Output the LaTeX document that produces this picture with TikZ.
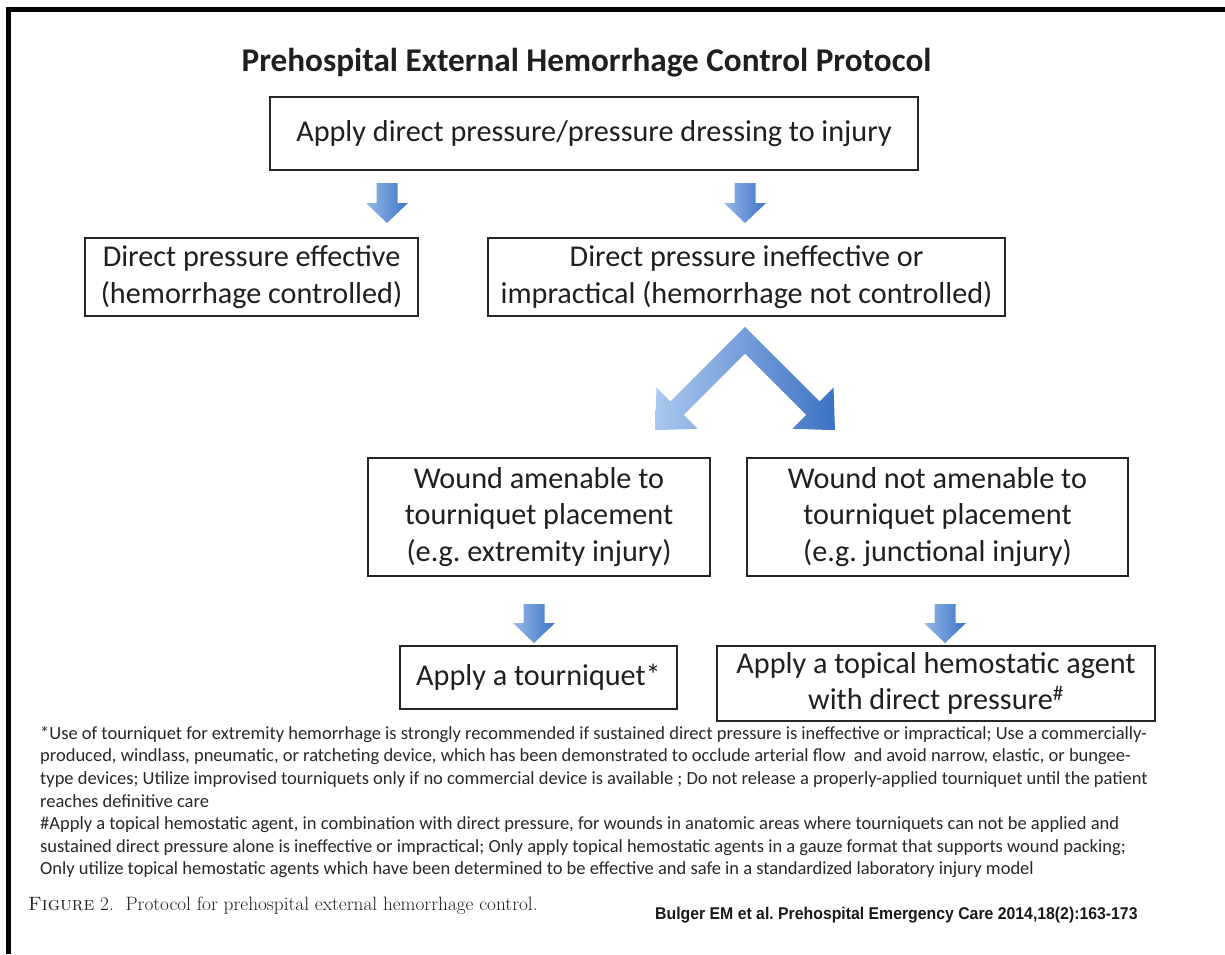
\documentclass[tikz,border=0pt]{standalone}
\usepackage{fontspec}
\usepackage{graphicx}
\usetikzlibrary{calc}
\newfontfamily\calibri{Carlito}
\newfontfamily\arialfont{Liberation Sans}
\definecolor{arrlite}{RGB}{150,186,234}
\definecolor{arrdark}{RGB}{60,114,196}
\definecolor{notegray}{RGB}{40,40,40}
\tikzset{
  stepbox/.style={
    rectangle,
    draw=black!85,
    line width=2.4pt,
    inner sep=0pt,
    align=center,
    text=black!88,
    font=\calibri\frenchspacing\fontsize{30.2}{36.5}\selectfont
  },
  fatdown/.style={
    left color=arrlite,
    right color=arrdark,
    draw=none,
    to path={($(\tikztostart)+(-10.5,0)$) -- ($(\tikztostart)+(10.5,0)$)
      -- ($(\tikztotarget)+(10.5,-20)$) -- ($(\tikztotarget)+(21,-20)$)
      -- (\tikztotarget) -- ($(\tikztotarget)+(-21,-20)$)
      -- ($(\tikztotarget)+(-10.5,-20)$) -- cycle}
  }
}

\begin{document}
\begin{tikzpicture}[x=1pt,y=-1pt]
\useasboundingbox (0,0) rectangle (1225,954);
\fill[white] (0,0) rectangle (1225,954);
% frame of the scan
\draw[line width=5pt] (8.5,954) -- (8.5,9.5) -- (1225,9.5);

\node[font=\calibri\bfseries\fontsize{33.2}{38}\selectfont, text=black!88, anchor=base] (title) at (586.5,71) {Prehospital External Hemorrhage Control Protocol};

\node[stepbox, minimum width=648pt, minimum height=73pt] (apply) at (594,133.5) {Apply direct pressure/pressure dressing to injury};
\node[stepbox, minimum width=333pt, minimum height=78pt] (effective) at (251.5,277) {Direct pressure effective\\(hemorrhage controlled)};
\node[stepbox, minimum width=517pt, minimum height=78pt] (ineffective) at (746.5,277) {Direct pressure ineffective or\\impractical (hemorrhage not controlled)};
\node[stepbox, minimum width=342pt, minimum height=118pt] (amenable) at (539,517) {Wound amenable to\\tourniquet placement\\(e.g. extremity injury)};
\node[stepbox, minimum width=381pt, minimum height=118pt] (notamenable) at (937.5,517) {Wound not amenable to\\tourniquet placement\\(e.g. junctional injury)};
\node[stepbox, minimum width=277pt, minimum height=63pt] (tourniquet) at (538.5,677.5) {Apply a tourniquet*};
\node[stepbox, minimum width=438pt, minimum height=75pt] (topical) at (936,683.5) {Apply a topical hemostatic agent\\with direct pressure\textsuperscript{\#}};

% block arrows
\coordinate (d1a) at (387,183);
\coordinate (d1b) at (387,223);
\coordinate (d2a) at (745,183);
\coordinate (d2b) at (745,223);
\coordinate (d3a) at (534,604);
\coordinate (d3b) at (534,643);
\coordinate (d4a) at (945,604);
\coordinate (d4b) at (945,643);
\path[fatdown] (d1a) to (d1b);
\path[fatdown] (d2a) to (d2b);
\path[fatdown] (d3a) to (d3b);
\path[fatdown] (d4a) to (d4b);

% split arrow
\coordinate (apex) at ($(ineffective.south)+(-1.5,23)$);
\begin{scope}[shift={(apex)}]
\shade[left color=arrlite!80!white, right color=arrdark]
  (0,-13.4) -- (-74.7,61.3) -- (-88.5,47.5) -- (-90,90) -- (-47.5,88.5)
  -- (-61.3,74.7) -- (0,13.4) -- (61.3,74.7) -- (47.5,88.5) -- (90,90)
  -- (88.5,47.5) -- (74.7,61.3) -- cycle;
\end{scope}

\node[anchor=north west, align=left, inner sep=0pt, text=notegray, font=\calibri\fontsize{18.5}{22.6}\selectfont] (notes) at (40,726) {*Use of tourniquet for extremity hemorrhage is strongly recommended if sustained direct pressure is ineffective or impractical; Use a commercially-\\
produced, windlass, pneumatic, or ratcheting device, which has been demonstrated to occlude arterial flow\ \ and avoid narrow, elastic, or bungee-\\
type devices; Utilize improvised tourniquets only if no commercial device is available ; Do not release a properly-applied tourniquet until the patient\\
reaches definitive care\\
\#Apply a topical hemostatic agent, in combination with direct pressure, for wounds in anatomic areas where tourniquets can not be applied and\\
sustained direct pressure alone is ineffective or impractical; Only apply topical hemostatic agents in a gauze format that supports wound packing;\\
Only utilize topical hemostatic agents which have been determined to be effective and safe in a standardized laboratory injury model};

\node[anchor=base west, inner sep=0pt, text=black!88, font=\frenchspacing\fontsize{19.3}{22}\selectfont] (caption) at (28,910) {\textsc{Figure} 2.\ \ Protocol for prehospital external hemorrhage control.};
\node[anchor=base west, inner sep=0pt, text=black!90, font=\arialfont\bfseries\frenchspacing\fontsize{17}{20}\selectfont] (cite) at (655,919) {\scalebox{0.93}[1]{Bulger EM et al. Prehospital Emergency Care 2014,18(2):163-173}};
\end{tikzpicture}
\end{document}
